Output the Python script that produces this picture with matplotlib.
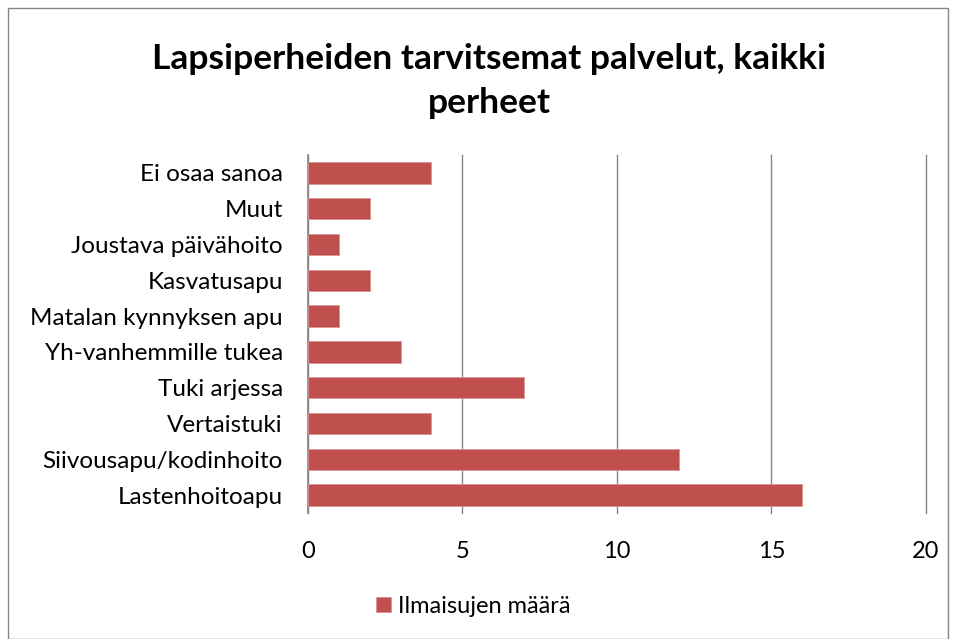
import matplotlib
matplotlib.use("Agg")
import matplotlib.pyplot as plt
from matplotlib.patches import Rectangle

categories = ["Lastenhoitoapu", "Siivousapu/kodinhoito", "Vertaistuki", "Tuki arjessa",
              "Yh-vanhemmille tukea", "Matalan kynnyksen apu", "Kasvatusapu",
              "Joustava päivähoito", "Muut", "Ei osaa sanoa"]
values = [16, 12, 4, 7, 3, 1, 2, 1, 2, 4]
series_name = "Ilmaisujen määrä"
title = "Lapsiperheiden tarvitsemat palvelut, kaikki\nperheet"
xticks = [0, 5, 10, 15, 20]

plt.rcParams['font.family'] = ['Lato', 'DejaVu Sans']

fig = plt.figure(figsize=(9.56, 6.39), dpi=100)
ax = fig.add_axes([0.322, 0.1972, 0.6464, 0.5602])

bar_color = "#C0504D"
ax.barh(range(len(categories)), values, height=0.6, color=bar_color,
        edgecolor="#D99694", linewidth=0.6, label=series_name, zorder=3)
ax.set_xlim(0, 20)
ax.set_ylim(-0.5, len(categories) - 0.5)
ax.set_xticks(xticks)
ax.set_xticklabels([str(t) for t in xticks])
ax.set_yticks(range(len(categories)))
ax.set_yticklabels(categories)
ax.grid(axis='x', color="#868686", linewidth=1.0, zorder=0)
for gl in ax.get_xgridlines():
    gl.set_clip_on(False)
for s in ['top', 'right', 'bottom']:
    ax.spines[s].set_visible(False)
ax.spines['left'].set_color("#868686")
ax.spines['left'].set_linewidth(1.2)
ax.tick_params(axis='x', length=0, pad=20, labelsize=17)
ax.tick_params(axis='y', length=0, pad=18, labelsize=17.5)

fig.suptitle(title, x=0.512, y=0.933, fontsize=25.5, fontweight='bold', linespacing=1.45)

leg = fig.legend(loc='center', bbox_to_anchor=(0.495, 0.051), frameon=False,
                 fontsize=17, handlelength=0.6, handleheight=0.6, handletextpad=0.3)

fig.patches.append(Rectangle((0.008, 0.0), 0.984, 0.988, transform=fig.transFigure,
                             fill=False, edgecolor="#868686", linewidth=1.0))

fig.savefig("out.png", dpi=100)
